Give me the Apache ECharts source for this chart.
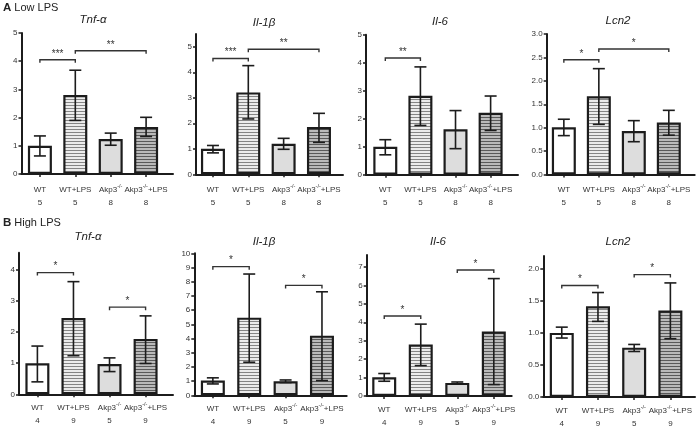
<!DOCTYPE html>
<html><head><meta charset="utf-8">
<script src="https://cdn.jsdelivr.net/npm/echarts@6/dist/echarts.min.js"></script>
<style>html,body{margin:0;padding:0;background:#fff}#c{width:696px;height:427px}</style>
</head><body><div id="c"></div>
<script>
// ---------- DATA ----------
const categories = ['WT', 'WT+LPS', 'Akp3-/-', 'Akp3-/-+LPS'];
const genes = ['Tnf-α', 'Il-1β', 'Il-6', 'Lcn2'];
const rowTitles = ['Low LPS', 'High LPS'];
const nLow = [5, 5, 8, 8];
const nHigh = [4, 9, 5, 9];

// Low LPS
const lowTnfMean = [1.00, 2.80, 1.24, 1.67];
const lowTnfLo   = [0.64, 1.90, 1.02, 1.33];
const lowTnfHi   = [1.35, 3.68, 1.45, 2.01];
const lowTnfSig  = [[0, 1, 4.05, '***'], [1, 3, 4.37, '**']];
const lowTnfTicks = [0, 1, 2, 3, 4, 5];

const lowIl1Mean = [1.00, 3.21, 1.20, 1.85];
const lowIl1Lo   = [0.84, 2.17, 0.98, 1.25];
const lowIl1Hi   = [1.13, 4.26, 1.41, 2.39];
const lowIl1Sig  = [[0, 1, 4.54, '***'], [1, 3, 4.90, '**']];
const lowIl1Ticks = [0, 1, 2, 3, 4, 5];

const lowIl6Mean = [1.00, 2.82, 1.62, 2.21];
const lowIl6Lo   = [0.71, 1.76, 0.93, 1.58];
const lowIl6Hi   = [1.25, 3.85, 2.29, 2.81];
const lowIl6Sig  = [[0, 1, 4.17, '**']];
const lowIl6Ticks = [0, 1, 2, 3, 4, 5];

const lowLcnMean = [1.01, 1.67, 0.93, 1.11];
const lowLcnLo   = [0.83, 1.07, 0.70, 0.84];
const lowLcnHi   = [1.18, 2.26, 1.15, 1.37];
const lowLcnSig  = [[0, 1, 2.45, '*'], [1, 3, 2.68, '*']];
const lowLcnTicks = [0, 0.5, 1.0, 1.5, 2.0, 2.5, 3.0];

// High LPS
const highTnfMean = [1.00, 2.45, 0.97, 1.78];
const highTnfLo   = [0.40, 1.24, 0.73, 0.99];
const highTnfHi   = [1.55, 3.62, 1.17, 2.52];
const highTnfSig  = [[0, 1, 3.91, '*'], [2, 3, 2.80, '*']];
const highTnfTicks = [0, 1, 2, 3, 4];

const highIl1Mean = [1.04, 5.47, 0.99, 4.20];
const highIl1Lo   = [0.80, 2.33, 0.90, 1.04];
const highIl1Hi   = [1.23, 8.54, 1.08, 7.29];
const highIl1Sig  = [[0, 1, 9.06, '*'], [2, 3, 7.74, '*']];
const highIl1Ticks = [0, 1, 2, 3, 4, 5, 6, 7, 8, 9, 10];

const highIl6Mean = [1.02, 2.79, 0.71, 3.50];
const highIl6Lo   = [0.80, 1.65, 0.65, 0.62];
const highIl6Hi   = [1.22, 3.90, 0.76, 6.37];
const highIl6Sig  = [[0, 1, 4.34, '*'], [2, 3, 6.84, '*']];
const highIl6Ticks = [0, 1, 2, 3, 4, 5, 6, 7];

const highLcnMean = [1.00, 1.415, 0.77, 1.35];
const highLcnLo   = [0.92, 1.18, 0.71, 0.91];
const highLcnHi   = [1.09, 1.63, 0.82, 1.78];
const highLcnSig  = [[0, 1, 1.74, '*'], [2, 3, 1.91, '*']];
const highLcnTicks = [0, 0.5, 1.0, 1.5, 2.0];

// ---------- LAYOUT (positions / styles only) ----------
const layout = [
  {left: 21.5, top: 33,    width: 151.5, height: 141,   ymax: 5,    xmin: -0.52, xmax: 3.76, dec: 0, lm: 9, title: [93, 14]},
  {left: 196,  top: 34,    width: 147,   height: 140.3, ymax: 5.5,  xmin: -0.48, xmax: 3.68, dec: 0, lm: 9, title: [264, 17]},
  {left: 366,  top: 34.7,  width: 152,   height: 140,   ymax: 5,    xmin: -0.55, xmax: 3.78, dec: 0, lm: 9, title: [440, 16]},
  {left: 546.7,top: 34,    width: 148,   height: 140.5, ymax: 3,    xmin: -0.49, xmax: 3.74, dec: 1, lm: 9, title: [618, 15]},
  {left: 19,   top: 252.7, width: 154,   height: 141.6, ymax: 4.55, xmin: -0.51, xmax: 3.76, dec: 0, lm: 7, title: [88, 231]},
  {left: 194.3,top: 253.3, width: 152.4, height: 142,   ymax: 10,   xmin: -0.51, xmax: 3.68, dec: 0, lm: 7, title: [264, 236]},
  {left: 366.7,top: 255,   width: 145,   height: 141,   ymax: 7.65, xmin: -0.48, xmax: 3.49, dec: 0, lm: 7, title: [438, 236]},
  {left: 543.3,top: 256,   width: 151.7, height: 141,   ymax: 2.2,  xmin: -0.51, xmax: 3.68, dec: 1, lm: 7, title: [618, 236]}
];

const panels = [
  {mean: lowTnfMean, lo: lowTnfLo, hi: lowTnfHi, sig: lowTnfSig, ticks: lowTnfTicks, n: nLow, gene: genes[0]},
  {mean: lowIl1Mean, lo: lowIl1Lo, hi: lowIl1Hi, sig: lowIl1Sig, ticks: lowIl1Ticks, n: nLow, gene: genes[1]},
  {mean: lowIl6Mean, lo: lowIl6Lo, hi: lowIl6Hi, sig: lowIl6Sig, ticks: lowIl6Ticks, n: nLow, gene: genes[2]},
  {mean: lowLcnMean, lo: lowLcnLo, hi: lowLcnHi, sig: lowLcnSig, ticks: lowLcnTicks, n: nLow, gene: genes[3]},
  {mean: highTnfMean, lo: highTnfLo, hi: highTnfHi, sig: highTnfSig, ticks: highTnfTicks, n: nHigh, gene: genes[0]},
  {mean: highIl1Mean, lo: highIl1Lo, hi: highIl1Hi, sig: highIl1Sig, ticks: highIl1Ticks, n: nHigh, gene: genes[1]},
  {mean: highIl6Mean, lo: highIl6Lo, hi: highIl6Hi, sig: highIl6Sig, ticks: highIl6Ticks, n: nHigh, gene: genes[2]},
  {mean: highLcnMean, lo: highLcnLo, hi: highLcnHi, sig: highLcnSig, ticks: highLcnTicks, n: nHigh, gene: genes[3]}
];

// ---------- STYLES ----------
const FONT = 'Liberation Sans, Arial, sans-serif';
const INK = '#1c1c1c';
const TXT = '#333';
function stripe(bg, fg) {
  const c = document.createElement('canvas');
  c.width = 4; c.height = 3;
  const g = c.getContext('2d');
  g.fillStyle = bg; g.fillRect(0, 0, 4, 3);
  g.fillStyle = fg; g.fillRect(0, 0, 4, 1);
  return c;
}
const fills = [
  '#ffffff',
  {image: stripe('#ececec', '#858585'), repeat: 'repeat'},
  '#dddddd',
  {image: stripe('#bababa', '#5a5a5a'), repeat: 'repeat'}
];

function catLabel(i, n) {
  const name = categories[i];
  const parts = name.split('-/-');
  let s = '{t|' + parts[0] + '}';
  if (parts.length > 1) {
    s += '{s|-/-}';
    if (parts[1]) s += '{t|' + parts[1] + '}';
  }
  return s + '\n{t|' + n[i] + '}';
}

const grids = [], xAxes = [], yAxes = [], series = [], titles = [];

const headStyle = {fontFamily: FONT, fontSize: 11, fontWeight: 'normal', color: '#222',
  rich: {b: {fontFamily: FONT, fontSize: 11.5, fontWeight: 'bold', color: '#222'}}};
titles.push({left: 3, top: 2, padding: 0, text: '{b|A} ' + rowTitles[0], textStyle: headStyle});
titles.push({left: 3, top: 217, padding: 0, text: '{b|B} ' + rowTitles[1], textStyle: headStyle});

panels.forEach((p, k) => {
  const L = layout[k];
  grids.push({left: L.left, top: L.top, width: L.width, height: L.height, containLabel: false, outerBoundsMode: 'none'});
  titles.push({text: p.gene, left: L.title[0], top: L.title[1], textAlign: 'center', padding: 0,
    textStyle: {fontFamily: FONT, fontSize: 11.5, fontStyle: 'italic', fontWeight: 'normal', color: '#222'}});
  xAxes.push({
    gridIndex: k, type: 'value', min: L.xmin, max: L.xmax,
    splitLine: {show: false},
    axisLine: {show: true, onZero: false, lineStyle: {color: INK, width: 2}},
    axisTick: {show: true, customValues: [0, 1, 2, 3], length: 3, lineStyle: {color: INK, width: 1.5}},
    axisLabel: {show: true, customValues: [0, 1, 2, 3], margin: L.lm,
      formatter: (v) => catLabel(Math.round(v), p.n),
      rich: {
        t: {fontFamily: FONT, fontSize: 8, color: TXT, lineHeight: 13},
        s: {fontFamily: FONT, fontSize: 5.5, color: TXT, verticalAlign: 'top', lineHeight: 7}
      }}
  });
  yAxes.push({
    gridIndex: k, type: 'value', min: 0, max: L.ymax,
    splitLine: {show: false},
    axisLine: {show: true, onZero: false, lineStyle: {color: INK, width: 2}},
    axisTick: {show: true, customValues: p.ticks, length: 3, lineStyle: {color: INK, width: 1.5}},
    axisLabel: {show: true, customValues: p.ticks, margin: 4, fontFamily: FONT, fontSize: 8, color: TXT,
      formatter: (v) => Number(v).toFixed(L.dec)}
  });
  series.push({
    type: 'bar', xAxisIndex: k, yAxisIndex: k, barWidth: 24, z: 2,
    data: p.mean.map((m, i) => ({value: [i, m], itemStyle: {color: fills[i], borderColor: INK, borderWidth: 2.2}})),
    silent: true, animation: false
  });
  series.push({
    type: 'custom', xAxisIndex: k, yAxisIndex: k, z: 5, silent: true, animation: false,
    data: p.mean.map((m, i) => [i, p.lo[i], p.hi[i]]),
    encode: {x: 0, y: [1, 2]},
    renderItem: (params, api) => {
      const x = api.value(0);
      const a = api.coord([x, api.value(1)]);
      const b = api.coord([x, api.value(2)]);
      const hw = 6;
      const st = {stroke: INK, lineWidth: 1.6};
      return {type: 'group', children: [
        {type: 'line', shape: {x1: a[0], y1: a[1], x2: b[0], y2: b[1]}, style: st},
        {type: 'line', shape: {x1: b[0] - hw, y1: b[1], x2: b[0] + hw, y2: b[1]}, style: st},
        {type: 'line', shape: {x1: a[0] - hw, y1: a[1], x2: a[0] + hw, y2: a[1]}, style: st}
      ]};
    }
  });
  series.push({
    type: 'custom', xAxisIndex: k, yAxisIndex: k, z: 5, silent: true, animation: false,
    data: p.sig.map(s => [s[0], s[1], s[2]]),
    encode: {x: [0, 1], y: 2},
    renderItem: (params, api) => {
      const a = api.coord([api.value(0), api.value(2)]);
      const b = api.coord([api.value(1), api.value(2)]);
      const d = 3;
      const label = p.sig[params.dataIndex][3];
      return {type: 'group', children: [
        {type: 'polyline', shape: {points: [[a[0], a[1] + d], [a[0], a[1]], [b[0], b[1]], [b[0], b[1] + d]]},
          style: {stroke: '#333', fill: null, lineWidth: 1.4}},
        {type: 'text', style: {text: label, x: (a[0] + b[0]) / 2, y: a[1] - 1, align: 'center', verticalAlign: 'bottom',
          font: '10px ' + FONT, fill: '#333'}}
      ]};
    }
  });
});

const chart = echarts.init(document.getElementById('c'), null, {renderer: 'canvas'});
chart.setOption({
  backgroundColor: '#fff',
  animation: false,
  title: titles,
  grid: grids,
  xAxis: xAxes,
  yAxis: yAxes,
  series: series
});
</script>
</body></html>
